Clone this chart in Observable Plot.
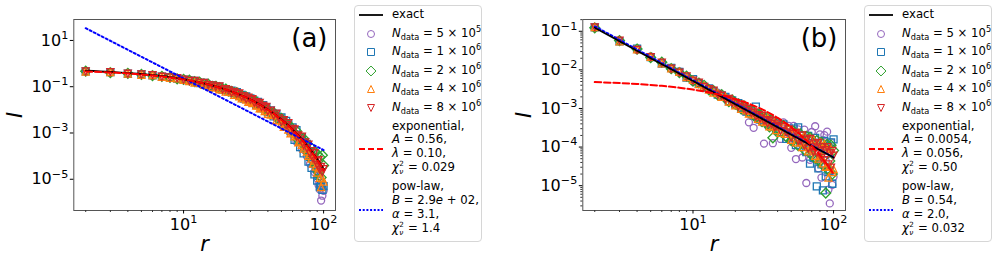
<!DOCTYPE html>
<html><head><meta charset="utf-8">
<script src="https://cdn.jsdelivr.net/npm/d3@7"></script>
<script src="https://cdn.jsdelivr.net/npm/@observablehq/plot@0.6"></script>
<style>
body{margin:0;background:#fff;font-family:"DejaVu Sans",sans-serif;color:#000;}
#root{position:relative;width:997px;height:260px;overflow:hidden;background:#fff;}
.panel{position:absolute;top:0;}
.legend{position:absolute;top:5px;width:128px;height:237px;box-sizing:border-box;border:1px solid #d6d6d6;border-radius:4px;background:#fff;font-family:"DejaVu Sans";font-size:11.7px;padding-top:2px;}
.row{display:flex;align-items:center;margin-bottom:4.7px;}
.row svg{flex:none;margin-left:4px;display:block;}
.row .t{margin-left:9px;line-height:13.9px;white-space:nowrap;}
.row.multi svg{transform:translateY(2px);}
sub,sup{font-size:70%;line-height:0;}
.ss{position:relative;display:inline-block;width:0.46em;height:1px;}
.ss span{position:absolute;left:0.04em;font-size:7.2px;line-height:8.3px;}
.ss .sp{top:-10.1px;}
.ss .sb{top:-2.0px;font-style:italic;}
</style></head>
<body><div id="root"></div>
<script>
// ---------- data (log10 of I) ----------
const R = [2,3,4,5,6,7,8,9,10,11,12,13,14,15,16,17,18,19,20,21,22,23,24,25,26,27,28,29,30,31,32,33,34,35,36,37,38,39,40,
           42,44,46,48,50,52,54,56,58,60,62,64,66,68,70,72,74,76,78,80,82,84,86,88,90,92,94,96,98,100];

// panel (a)
const a_5e5 = [-0.34,-0.39,-0.42,-0.48,-0.50,-0.56,-0.61,-0.63,-0.71,
               -0.72,-0.79,-0.81,-0.89,-0.88,-0.97,-1.03,-1.01,-1.09,-1.17,-1.13,-1.26,-1.24,-1.32,-1.30,-1.44,-1.42,-1.51,-1.46,-1.63,-1.58,-1.67,-1.77,-1.69,-1.79,-1.91,-1.83,-1.95,-1.89,-2.07,
               -2.12,-2.11,-2.35,-2.32,-2.50,-2.63,-2.54,-2.73,-2.91,-2.82,-3.15,-3.38,-3.06,-3.36,-3.69,-3.34,-3.77,-4.00,-3.74,-4.33,-4.01,-4.37,-4.69,-4.62,-4.96,-5.25,-5.44,-5.92,-5.71,-5.50];
const a_1e6 = [-0.34,-0.37,-0.44,-0.46,-0.51,-0.56,-0.59,-0.65,-0.69,
               -0.74,-0.75,-0.84,-0.84,-0.93,-0.93,-1.01,-1.00,-1.12,-1.10,-1.21,-1.17,-1.28,-1.24,-1.40,-1.35,-1.51,-1.42,-1.55,-1.50,-1.67,-1.60,-1.78,-1.66,-1.80,-1.92,-1.80,-1.95,-1.88,-2.10,
               -2.02,-2.28,-2.18,-2.40,-2.33,-2.65,-2.48,-2.63,-2.92,-2.76,-3.30,-2.88,-3.32,-3.61,-3.19,-3.88,-3.62,-3.47,-4.24,-4.03,-4.51,-3.80,-4.79,-4.52,-5.06,-4.85,-5.34,-5.27,-5.46,-5.30];
const a_2e6 = [-0.33,-0.39,-0.42,-0.47,-0.52,-0.55,-0.60,-0.66,-0.68,
               -0.72,-0.78,-0.80,-0.88,-0.89,-0.98,-0.98,-1.04,-1.10,-1.10,-1.19,-1.20,-1.27,-1.26,-1.38,-1.38,-1.46,-1.44,-1.52,-1.60,-1.58,-1.67,-1.65,-1.75,-1.82,-1.79,-1.88,-1.96,-1.92,-2.02,
               -2.13,-2.12,-2.27,-2.41,-2.37,-2.55,-2.58,-2.76,-2.72,-2.92,-3.01,-2.91,-3.30,-3.17,-3.44,-3.24,-3.67,-3.47,-3.89,-3.58,-3.93,-4.20,-3.79,-4.42,-3.91,-4.70,-4.04,-4.92,-3.96,-4.40];
const a_4e6 = [-0.35,-0.37,-0.43,-0.49,-0.50,-0.57,-0.62,-0.64,-0.70,
               -0.76,-0.82,-0.82,-0.92,-0.92,-1.02,-1.03,-1.11,-1.11,-1.21,-1.22,-1.23,-1.35,-1.34,-1.42,-1.50,-1.47,-1.56,-1.65,-1.62,-1.71,-1.67,-1.82,-1.81,-1.93,-1.92,-1.91,-2.05,-2.04,-2.17,
               -2.20,-2.23,-2.45,-2.44,-2.57,-2.73,-2.66,-2.85,-3.02,-2.98,-3.15,-3.12,-3.40,-3.36,-3.51,-3.68,-3.59,-3.80,-3.99,-3.91,-4.11,-4.32,-4.19,-4.45,-4.71,-4.53,-4.94,-5.34,-4.96,-5.10];
const a_8e6 = [-0.34,-0.37,-0.44,-0.47,-0.50,-0.57,-0.60,-0.63,-0.69,
               -0.75,-0.75,-0.83,-0.83,-0.93,-0.94,-1.01,-0.99,-1.12,-1.10,-1.16,-1.26,-1.22,-1.31,-1.29,-1.42,-1.42,-1.53,-1.47,-1.57,-1.54,-1.69,-1.67,-1.76,-1.70,-1.88,-1.83,-1.91,-1.87,-2.06,
               -2.03,-2.25,-2.16,-2.37,-2.52,-2.44,-2.66,-2.57,-2.89,-2.82,-2.85,-3.16,-3.10,-3.29,-3.16,-3.53,-3.41,-3.65,-3.50,-3.91,-3.78,-4.10,-3.87,-4.21,-4.38,-4.17,-4.59,-4.47,-4.69,-4.56];
const a_exact_r = [2,3,4,5,6,8,10,15,20,30,40,50,60,70,80,90,100];
const a_exact   = [-0.31,-0.36,-0.41,-0.45,-0.50,-0.59,-0.68,-0.90,-1.12,-1.55,-1.98,-2.41,-2.84,-3.27,-3.70,-4.13,-4.56];
const a_exp_r = [2,3,4,5,6,8,10,15,20,25,30,40,50,60,70,80,90,100];
const a_exp   = [-0.339,-0.382,-0.426,-0.469,-0.513,-0.599,-0.686,-0.903,-1.121,-1.338,-1.555,-1.989,-2.424,-2.858,-3.292,-3.727,-4.161,-4.595];
const a_pow_r = [2,5,10,20,50,100];
const a_pow   = [1.529,0.295,-0.638,-1.571,-2.805,-3.738];

// panel (b)
const b_5e5 = [-0.89,-1.25,-1.49,-1.65,-1.82,-1.98,-2.04,-2.18,-2.30,
               -2.34,-2.41,-2.52,-2.57,-2.59,-2.70,-2.70,-2.82,-2.78,-2.91,-2.85,-2.98,-3.07,-2.99,-3.36,-3.03,-3.50,-3.13,-3.29,-3.14,-3.30,-3.91,-3.25,-3.45,-3.27,-3.42,-3.90,-3.36,-3.56,-3.42,
               -3.79,-3.36,-3.74,-3.45,-4.02,-3.45,-4.31,-3.54,-3.90,-4.27,-3.55,-4.93,-3.76,-4.33,-3.61,-4.23,-3.46,-4.33,-4.55,-3.67,-4.79,-3.82,-3.69,-4.36,-3.60,-5.10,-5.46,-3.88,-4.98,-4.77];
const b_1e6 = [-0.90,-1.26,-1.45,-1.67,-1.84,-1.95,-2.05,-2.20,-2.24,
               -2.36,-2.45,-2.48,-2.55,-2.64,-2.66,-2.70,-2.81,-2.79,-2.89,-2.86,-2.99,-2.96,-3.08,-3.04,-3.04,-3.18,-2.95,-3.22,-3.28,-3.21,-3.35,-3.26,-3.36,-3.44,-3.32,-3.44,-3.36,-3.54,-3.44,
               -3.63,-3.41,-3.79,-3.53,-3.75,-3.52,-3.95,-3.49,-3.95,-3.70,-3.95,-4.13,-3.71,-4.43,-3.82,-4.28,-3.76,-5.02,-4.55,-3.89,-4.45,-5.12,-3.84,-4.76,-3.98,-4.65,-4.61,-3.88,-4.95,-3.80];
const b_2e6 = [-0.91,-1.24,-1.46,-1.68,-1.80,-1.97,-2.07,-2.16,-2.29,
               -2.34,-2.40,-2.52,-2.54,-2.65,-2.64,-2.74,-2.82,-2.78,-2.89,-2.88,-3.01,-2.93,-3.06,-3.11,-3.03,-3.15,-3.24,-3.15,-3.16,-3.34,-3.25,-3.23,-3.40,-3.48,-3.29,-3.76,-3.47,-3.55,-3.37,
               -3.60,-3.44,-3.73,-3.57,-3.83,-3.59,-3.78,-3.96,-3.66,-3.90,-4.07,-3.72,-4.01,-3.75,-4.21,-3.92,-4.29,-3.83,-4.17,-4.37,-3.88,-4.47,-3.99,-5.19,-3.93,-4.60,-4.36,-3.95,-4.70,-4.09];
const b_4e6 = [-0.89,-1.26,-1.47,-1.66,-1.83,-1.96,-2.05,-2.19,-2.26,
               -2.37,-2.41,-2.51,-2.59,-2.60,-2.70,-2.69,-2.82,-2.82,-2.92,-2.88,-3.01,-2.94,-3.05,-3.13,-3.06,-3.16,-3.10,-3.27,-3.20,-3.34,-3.21,-3.35,-3.25,-3.46,-3.35,-3.46,-3.34,-3.56,-3.42,
               -3.63,-3.46,-3.66,-3.51,-3.81,-3.64,-3.88,-3.63,-3.88,-4.00,-3.70,-3.93,-4.11,-3.77,-4.06,-3.80,-4.23,-3.95,-4.30,-3.87,-4.24,-4.42,-3.92,-4.51,-4.06,-4.79,-4.49,-4.05,-4.65,-4.57];
const b_8e6 = [-0.90,-1.24,-1.48,-1.67,-1.81,-1.97,-2.07,-2.17,-2.28,
               -2.33,-2.44,-2.50,-2.54,-2.64,-2.67,-2.76,-2.75,-2.85,-2.86,-2.95,-2.91,-3.00,-3.06,-3.01,-3.12,-3.10,-3.21,-3.17,-3.26,-3.19,-3.31,-3.30,-3.39,-3.31,-3.40,-3.33,-3.48,-3.46,-3.41,
               -3.58,-3.48,-3.62,-3.54,-3.76,-3.66,-3.63,-3.84,-3.82,-3.70,-3.96,-3.82,-4.04,-3.79,-4.01,-4.13,-3.91,-4.15,-3.89,-4.10,-4.28,-4.00,-4.34,-4.08,-4.00,-4.45,-4.16,-4.53,-4.10,-4.22];
const b_exact_r = [2,5,10,20,50,100];
const b_exact   = [-0.91,-1.70,-2.29,-2.89,-3.68,-4.27];
const b_exp_r = [2,3,4,5,6,8,10,15,20,25,30,40,50,60,70,80,90,100];
const b_exp   = [-2.317,-2.341,-2.365,-2.390,-2.414,-2.463,-2.511,-2.633,-2.754,-2.876,-2.998,-3.241,-3.484,-3.727,-3.970,-4.214,-4.457,-4.700];
const b_pow_r = [2,5,10,20,50,100];
const b_pow   = [-0.870,-1.666,-2.268,-2.870,-3.666,-4.268];

// series labels / colours
const nMant = ["5","1","2","4","8"];
const nExp  = ["5","6","6","6","6"];
const colors = ["#9467bd","#1f77b4","#2ca02c","#ff7f0e","#d62728"];

// ticks
const xMajor = [10,100];
const xMinor = [2,3,4,5,6,7,8,9,20,30,40,50,60,70,80,90];
const yMajorA = [1e1,1e-1,1e-3,1e-5];
const yMajorB = [1e-1,1e-2,1e-3,1e-4,1e-5];
const minorMult = [2,3,4,5,6,7,8,9];
const minorDecB = [1e-6,1e-5,1e-4,1e-3,1e-2,1e-1];

// fit parameters (legend text)
const fitA = {A:"0.56", lam:"0.10", chiE:"0.029", B:"2.9<i>e</i> + 02", alpha:"3.1", chiP:"1.4"};
const fitB = {A:"0.0054", lam:"0.056", chiE:"0.50", B:"0.54", alpha:"2.0", chiP:"0.032"};

// ---------- symbols ----------
const rad = s => Math.sqrt(s/Math.PI);
const symSquare = {draw(c,s){const r=rad(s);c.moveTo(-r,-r);c.lineTo(r,-r);c.lineTo(r,r);c.lineTo(-r,r);c.closePath();}};
const symDiamond = {draw(c,s){const r=rad(s)*Math.SQRT2;c.moveTo(0,-r);c.lineTo(r,0);c.lineTo(0,r);c.lineTo(-r,0);c.closePath();}};
const symTriUp = {draw(c,s){const r=rad(s);c.moveTo(0,-r);c.lineTo(r,r);c.lineTo(-r,r);c.closePath();}};
const symTriDn = {draw(c,s){const r=rad(s);c.moveTo(0,r);c.lineTo(r,-r);c.lineTo(-r,-r);c.closePath();}};
const symbols = [d3.symbolCircle, symSquare, symDiamond, symTriUp, symTriDn];
const MR = 3.5;

const pts = (rs, logs) => rs.map((r,i)=>({r, I: Math.pow(10, logs[i])}));
const supFmt = d => "10^" + String(Math.round(Math.log10(d))).replace("-", "\u2212");

function makePanel(o){
  const marks = [];
  o.series.forEach((vals,i)=>{
    marks.push(Plot.dot(pts(R, vals), {x:"r", y:"I", symbol: symbols[i], r: MR, stroke: colors[i], fill:"none", strokeWidth:1.3}));
  });
  marks.push(Plot.line(pts(o.powR, o.pow), {x:"r", y:"I", stroke:"#0000ff", strokeWidth:2, strokeDasharray:"2,2.5"}));
  marks.push(Plot.line(pts(o.exactR, o.exact), {x:"r", y:"I", stroke:"black", strokeWidth:1.8, curve:"monotone-x"}));
  marks.push(Plot.line(pts(o.expR, o.exp), {x:"r", y:"I", stroke:"#ff0000", strokeWidth:2, strokeDasharray:"6.5,2.8", curve:"monotone-x"}));
  marks.push(Plot.frame({stroke:"#555", strokeWidth:1}));
  marks.push(Plot.axisX(xMinor, {tickSize:2, tickFormat:()=>"", label:null, stroke:"#333"}));
  marks.push(Plot.axisX(xMajor, {tickSize:3.5, tickPadding:4.5, tickFormat:supFmt, label:null, fontSize:16}));
  if (o.yMinor) marks.push(Plot.axisY(o.yMinor, {tickSize:2, tickFormat:()=>"", label:null, stroke:"#333"}));
  marks.push(Plot.axisY(o.yMajor, {tickSize:3.5, tickPadding:2, tickFormat:supFmt, label:null, fontSize:16}));
  marks.push(Plot.text([o.tag], {frameAnchor:"top-right", textAnchor:"end", lineAnchor:"top", dx:-8, dy:9, fontSize:26}));
  marks.push(Plot.text(["I"], {frameAnchor:"left", textAnchor:"middle", lineAnchor:"middle", rotate:-90, dx:-59, fontSize:21, fontStyle:"italic"}));
  marks.push(Plot.text(["r"], {frameAnchor:"bottom", textAnchor:"middle", lineAnchor:"middle", dy:34, fontSize:21, fontStyle:"italic"}));
  const svg = Plot.plot({
    width:o.width, height:260, marginLeft:o.ml, marginRight:10, marginTop:19, marginBottom:50,
    x:{type:"log", domain:[Math.pow(10,0.216), Math.pow(10,2.085)], axis:null},
    y:{type:"log", domain:o.yDomain, axis:null},
    style:{fontFamily:"DejaVu Sans", fontSize:"16px", color:"black", background:"white", overflow:"visible"},
    marks
  });
  svg.querySelectorAll("text").forEach(t=>{
    const m = t.textContent.match(/^(.*)\^(.*)$/);
    if(!m) return;
    t.textContent = m[1];
    const ts = document.createElementNS("http://www.w3.org/2000/svg","tspan");
    ts.setAttribute("font-size","70%"); ts.setAttribute("dy","-0.6em"); ts.textContent = m[2];
    t.appendChild(ts);
  });
  const div = document.createElement("div");
  div.className = "panel"; div.style.left = o.left+"px"; div.style.width = o.width+"px";
  div.appendChild(svg);
  return div;
}

function lineHandle(color, w, dash){
  return `<svg width="24" height="12"><line x1="0" x2="24" y1="6" y2="6" stroke="${color}" stroke-width="${w}" ${dash?`stroke-dasharray="${dash}"`:""}/></svg>`;
}
function symHandle(i){
  const d = d3.symbol().type(symbols[i]).size(Math.PI*MR*MR)();
  return `<svg width="24" height="12"><path transform="translate(12,6)" d="${d}" fill="none" stroke="${colors[i]}" stroke-width="1"/></svg>`;
}
const chi = `<i>χ</i><span class="ss"><span class="sp">2</span><span class="sb">ν</span></span>`;
function makeLegend(left, fit){
  const div = document.createElement("div");
  div.className = "legend"; div.style.left = left+"px";
  let h = `<div class="row">${lineHandle("black",1.8)}<div class="t">exact</div></div>`;
  nMant.forEach((m,i)=>{
    h += `<div class="row">${symHandle(i)}<div class="t"><i>N</i><sub>data</sub> = ${m} × 10<sup>${nExp[i]}</sup></div></div>`;
  });
  h += `<div class="row multi">${lineHandle("#ff0000",2,"6,3")}<div class="t">exponential,<br><i>A</i> = ${fit.A},<br><i>λ</i> = ${fit.lam},<br>${chi} = ${fit.chiE}</div></div>`;
  h += `<div class="row multi">${lineHandle("#0000ff",2,"2,1.7")}<div class="t">pow-law,<br><i>B</i> = ${fit.B},<br><i>α</i> = ${fit.alpha},<br>${chi} = ${fit.chiP}</div></div>`;
  div.innerHTML = h;
  return div;
}

const root = document.getElementById("root");
root.appendChild(makePanel({
  left:0, width:345, ml:73.3, tag:"(a)",
  series:[a_5e5,a_1e6,a_2e6,a_4e6,a_8e6],
  exactR:a_exact_r, exact:a_exact, expR:a_exp_r, exp:a_exp, powR:a_pow_r, pow:a_pow,
  yDomain:[Math.pow(10,-6.35), Math.pow(10,1.905)], yMajor:yMajorA, yMinor:null
}));
root.appendChild(makePanel({
  left:500, width:355, ml:82.3, tag:"(b)",
  series:[b_5e5,b_1e6,b_2e6,b_4e6,b_8e6],
  exactR:b_exact_r, exact:b_exact, expR:b_exp_r, exp:b_exp, powR:b_pow_r, pow:b_pow,
  yDomain:[Math.pow(10,-5.643), Math.pow(10,-0.695)], yMajor:yMajorB,
  yMinor: minorDecB.flatMap(d=>minorMult.map(m=>m*d)).filter(v=>v>Math.pow(10,-5.643)&&v<Math.pow(10,-0.695))
}));
root.appendChild(makeLegend(354, fitA));
root.appendChild(makeLegend(864, fitB));
</script></body></html>
